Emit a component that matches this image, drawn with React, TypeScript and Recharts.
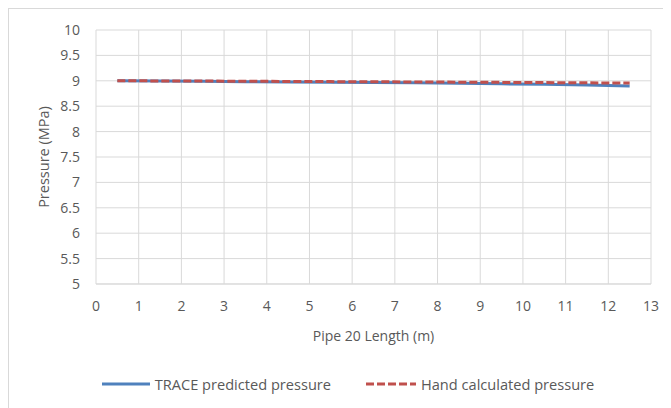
import { LineChart, Line, XAxis, YAxis, CartesianGrid, Legend } from 'recharts';

const positions = [0.5, 1.5, 2.5, 3.5, 4.5, 5.5, 6.5, 7.5, 8.5, 9.5, 10.5, 11.5, 12.5];
const tracePressure = [9.0, 8.995, 8.99, 8.982, 8.976, 8.97, 8.965, 8.96, 8.95, 8.94, 8.93, 8.915, 8.9];
const handPressure = [9.0, 8.998, 8.995, 8.991, 8.988, 8.984, 8.981, 8.977, 8.973, 8.969, 8.965, 8.96, 8.955];
const xTicks = [0, 1, 2, 3, 4, 5, 6, 7, 8, 9, 10, 11, 12, 13];
const yTicks = [5, 5.5, 6, 6.5, 7, 7.5, 8, 8.5, 9, 9.5, 10];

const data = positions.map((x, i) => ({ x, trace: tracePressure[i], hand: handPressure[i] }));

const FONT = '"Open Sans", sans-serif';
const GREY = '#595959';
const BLUE = '#4F81BD';
const RED = '#C0504D';

function LegendContent() {
  return (
    <div
      style={{
        display: 'flex',
        justifyContent: 'center',
        gap: 35,
        paddingLeft: 36,
        fontFamily: FONT,
        fontSize: 14.6,
        color: GREY,
      }}
    >
      <span style={{ display: 'flex', alignItems: 'center', gap: 5 }}>
        <svg width={48} height={4}>
          <line x1={0} y1={2} x2={48} y2={2} stroke={BLUE} strokeWidth={3} />
        </svg>
        TRACE predicted pressure
      </span>
      <span style={{ display: 'flex', alignItems: 'center', gap: 5 }}>
        <svg width={50} height={4}>
          <line x1={0} y1={2} x2={50} y2={2} stroke={RED} strokeWidth={3} strokeDasharray="8 3" />
        </svg>
        Hand calculated pressure
      </span>
    </div>
  );
}

export default function App() {
  return (
    <div style={{ width: 662, height: 399, borderTop: '1px solid #d9d9d9', borderLeft: '1px solid #d9d9d9', background: '#fff' }}>
      <LineChart width={662} height={399} data={data} margin={{ top: 21, right: 20, left: 0, bottom: 41 }}>
        <CartesianGrid stroke="#d9d9d9" />
        <XAxis
          dataKey="x"
          type="number"
          domain={[0, 13]}
          ticks={xTicks}
          interval={0}
          tick={{ fontSize: 14, fill: GREY, fontFamily: FONT }}
          tickLine={false}
          axisLine={{ stroke: '#d9d9d9' }}
          tickMargin={11}
          height={63}
          label={{
            content: ({ viewBox }: any) => (
              <text
                x={viewBox.x + viewBox.width / 2}
                y={viewBox.y + 57}
                textAnchor="middle"
                fontFamily={FONT}
                fontSize={14}
                fill={GREY}
              >
                Pipe 20 Length  (m)
              </text>
            ),
          }}
        />
        <YAxis
          type="number"
          domain={[5, 10]}
          ticks={yTicks}
          interval={0}
          tick={{ fontSize: 14, fill: GREY, fontFamily: FONT }}
          tickLine={false}
          axisLine={false}
          tickMargin={10}
          width={87}
          label={{
            content: ({ viewBox }: any) => {
              const cx = 34;
              const cy = viewBox.y + viewBox.height / 2;
              return (
                <text
                  x={cx}
                  y={cy}
                  transform={`rotate(-90 ${cx} ${cy})`}
                  textAnchor="middle"
                  dominantBaseline="central"
                  fontFamily={FONT}
                  fontSize={14.5}
                  fill={GREY}
                >
                  Pressure (MPa)
                </text>
              );
            },
          }}
        />
        <Legend verticalAlign="bottom" wrapperStyle={{ bottom: 14 }} content={<LegendContent />} />
        <Line
          type="linear"
          dataKey="trace"
          name="TRACE predicted pressure"
          stroke={BLUE}
          strokeWidth={3}
          dot={false}
          isAnimationActive={false}
        />
        <Line
          type="linear"
          dataKey="hand"
          name="Hand calculated pressure"
          stroke={RED}
          strokeWidth={3}
          strokeDasharray="8 3"
          dot={false}
          isAnimationActive={false}
        />
      </LineChart>
    </div>
  );
}
